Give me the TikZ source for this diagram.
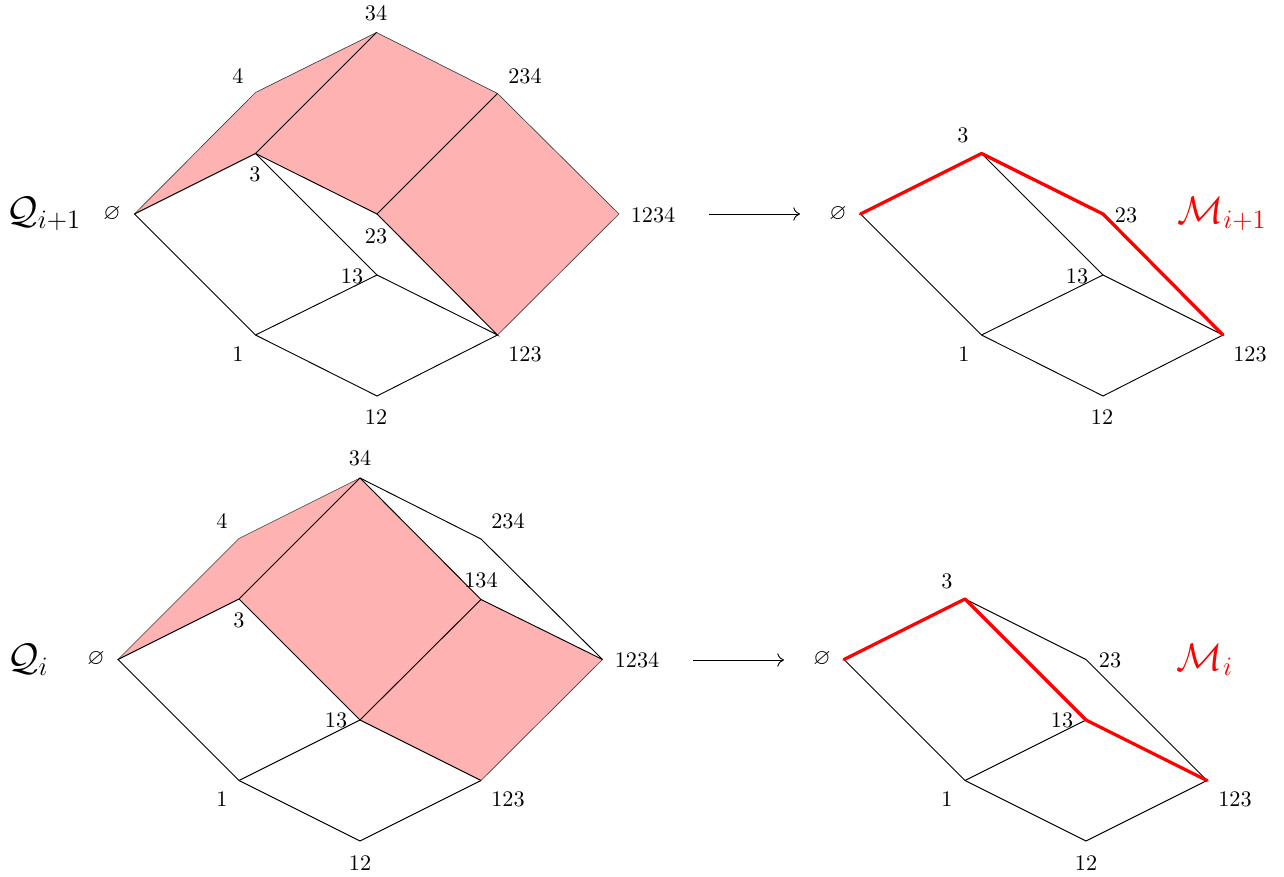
\documentclass[tikz,border=0pt]{standalone}
\usepackage{amssymb}
\usetikzlibrary{arrows.meta}
\tikzset{
  lbl/.style={inner sep=0pt,font=\normalsize},
  edge/.style={draw=black,line width=0.42pt},
  rim/.style={draw=black!75,line width=0.3pt},
  face/.style={fill=red!30,draw=none},
  path/.style={draw=red,line width=1.5pt,line cap=round,line join=round},
  big/.style={inner sep=0pt,font=\fontsize{16.6}{20}\selectfont},
  mapto/.style={draw=black,line width=0.42pt,-{To[length=3pt,width=6pt]}}
}
\begin{document}
\begin{tikzpicture}[x=0.45pt,y=-0.45pt]
\useasboundingbox (0,0) rectangle (1284,877);
% top left
\coordinate (a0) at (134.5,214);
\coordinate (a4) at (255.5,92.5);
\coordinate (a34) at (376.5,32.5);
\coordinate (a3) at (255.5,153.5);
\coordinate (a234) at (497.5,93.5);
\coordinate (a23) at (377,214);
\coordinate (a1234) at (619,214);
\coordinate (a13) at (377,275);
\coordinate (a1) at (255.5,335);
\coordinate (a123) at (497.5,335);
\coordinate (a12) at (377,396);
\fill[face] (a0)--(a4)--(a34)--(a3)--cycle;
\fill[face] (a3)--(a34)--(a234)--(a23)--cycle;
\fill[face] (a23)--(a234)--(a1234)--(a123)--cycle;
\draw[rim] (a0)--(a4)--(a34)--(a234)--(a1234)--(a123);
\draw[edge] (a123)--(a12)--(a1)--(a0)--(a3)--(a34);
\draw[edge] (a3)--(a23)--(a234);
\draw[edge] (a23)--(a123)--(a13)--(a1);
\draw[edge] (a3)--(a13);
\node[lbl] (la4) at (238,76) {$4$};
\node[lbl] (la34) at (376,13) {$34$};
\node[lbl] (la234) at (525,76) {$234$};
\node[lbl] (la3) at (255,174) {$3$};
\node[lbl] (la0) at (112,214) {$\varnothing$};
\node[lbl] (la23) at (376,236) {$23$};
\node[lbl] (la13) at (352,276) {$13$};
\node[lbl] (la1) at (238,354) {$1$};
\node[lbl] (la123) at (525,354) {$123$};
\node[lbl] (la12) at (376,417) {$12$};
\node[lbl] (la1234) at (653,215) {$1234$};
\node[big] (qa) at (44,214) {$\mathcal{Q}_{i+1}$};
\coordinate (arA) at (709,214);
\coordinate (arB) at (800,214);
\draw[mapto] (arA)--(arB);
% top right
\coordinate (b0) at (860.5,214);
\coordinate (b3) at (981.5,153.5);
\coordinate (b23) at (1103,214);
\coordinate (b13) at (1103,275);
\coordinate (b1) at (981.5,335);
\coordinate (b123) at (1223,335);
\coordinate (b12) at (1103,396);
\draw[edge] (b0)--(b1)--(b12)--(b123)--(b13)--(b1);
\draw[edge] (b3)--(b13);
\draw[path] (b0)--(b3)--(b23)--(b123);
\node[lbl] (lb3) at (963,135) {$3$};
\node[lbl] (lb0) at (838,214) {$\varnothing$};
\node[lbl] (lb23) at (1126,215) {$23$};
\node[lbl] (lb13) at (1077,276) {$13$};
\node[lbl] (lb1) at (964,354) {$1$};
\node[lbl] (lb123) at (1250,354) {$123$};
\node[lbl] (lb12) at (1102,417) {$12$};
\node[big,text=red] (mb) at (1222,214) {$\mathcal{M}_{i+1}$};
% bottom left
\coordinate (c0) at (118,659.5);
\coordinate (c4) at (239,538.5);
\coordinate (c34) at (360,478);
\coordinate (c3) at (239,599);
\coordinate (c234) at (481,539);
\coordinate (c134) at (481,599.5);
\coordinate (c1234) at (602.5,659.5);
\coordinate (c13) at (360,720);
\coordinate (c1) at (239,780.5);
\coordinate (c123) at (481,780.5);
\coordinate (c12) at (360,841);
\fill[face] (c0)--(c4)--(c34)--(c3)--cycle;
\fill[face] (c3)--(c34)--(c134)--(c13)--cycle;
\fill[face] (c13)--(c134)--(c1234)--(c123)--cycle;
\draw[rim] (c0)--(c4)--(c34);
\draw[rim] (c1234)--(c123);
\draw[edge] (c34)--(c234)--(c1234);
\draw[edge] (c123)--(c12)--(c1)--(c0)--(c3)--(c34)--(c134)--(c1234);
\draw[edge] (c3)--(c13)--(c134);
\draw[edge] (c1)--(c13)--(c123);
\node[lbl] (lc4) at (222,521) {$4$};
\node[lbl] (lc34) at (360,458) {$34$};
\node[lbl] (lc234) at (508,521) {$234$};
\node[lbl] (lc3) at (239,620) {$3$};
\node[lbl] (lc0) at (96,659) {$\varnothing$};
\node[lbl] (lc134) at (481,580) {$134$};
\node[lbl] (lc1234) at (637,660) {$1234$};
\node[lbl] (lc13) at (336,720) {$13$};
\node[lbl] (lc1) at (222,799) {$1$};
\node[lbl] (lc123) at (508,799) {$123$};
\node[lbl] (lc12) at (360,863) {$12$};
\node[big] (qc) at (28,660) {$\mathcal{Q}_{i}$};
\coordinate (arC) at (693,660);
\coordinate (arD) at (784,660);
\draw[mapto] (arC)--(arD);
% bottom right
\coordinate (d0) at (844,659.5);
\coordinate (d3) at (965,599);
\coordinate (d23) at (1086,659.5);
\coordinate (d13) at (1086,720);
\coordinate (d1) at (965,780.5);
\coordinate (d123) at (1207,780.5);
\coordinate (d12) at (1086,841);
\draw[edge] (d0)--(d1)--(d12)--(d123)--(d23)--(d3);
\draw[edge] (d1)--(d13);
\draw[path] (d0)--(d3)--(d13)--(d123);
\node[lbl] (ld3) at (947,581) {$3$};
\node[lbl] (ld0) at (822,659) {$\varnothing$};
\node[lbl] (ld23) at (1110,660) {$23$};
\node[lbl] (ld13) at (1062,720) {$13$};
\node[lbl] (ld1) at (947,799) {$1$};
\node[lbl] (ld123) at (1235,799) {$123$};
\node[lbl] (ld12) at (1086,863) {$12$};
\node[big,text=red] (md) at (1205,660) {$\mathcal{M}_{i}$};
\end{tikzpicture}
\end{document}
